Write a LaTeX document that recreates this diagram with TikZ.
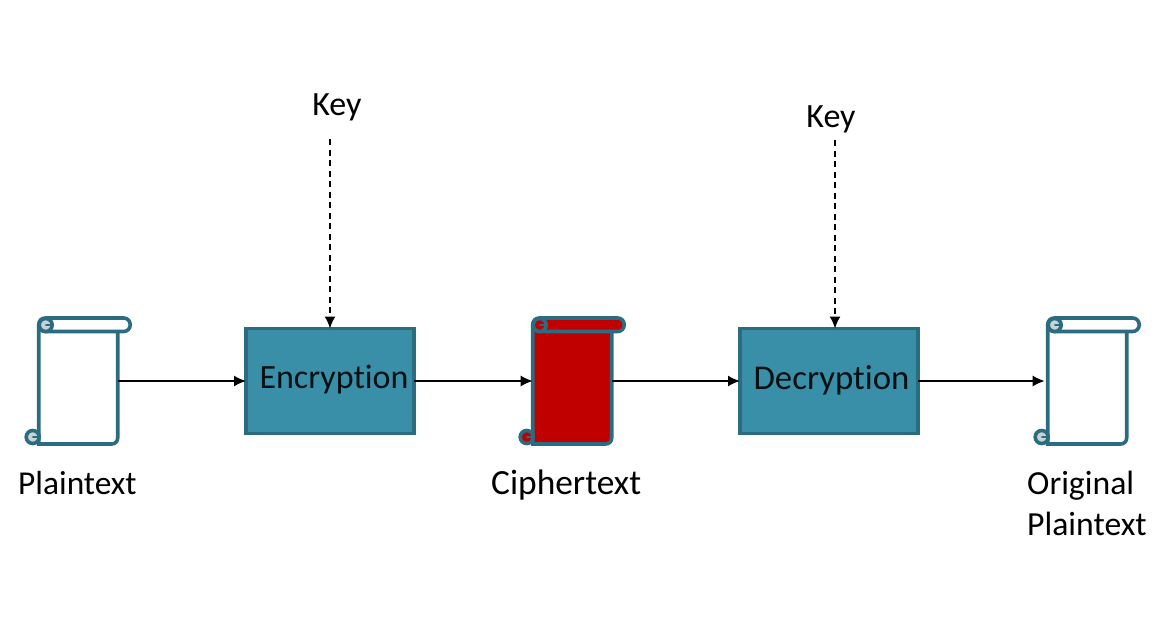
\documentclass[tikz,border=0pt]{standalone}
\usepackage{fontspec}
\setmainfont[Ligatures=NoCommon]{Carlito}
\usetikzlibrary{arrows.meta}
\definecolor{edgeteal}{HTML}{2B6C80}
\definecolor{boxteal}{HTML}{3A8FA8}
\definecolor{scrollred}{HTML}{C00000}
\definecolor{curlgrey}{HTML}{C9D3D6}
\newcommand{\scrollshape}[4]{%
  % #1 name, #2 left x, #3 fill, #4 curl fill
  \node[anchor=center,minimum width=79pt,minimum height=126pt,inner sep=0pt,outer sep=0pt] (#1) at (#2+39.5,381) {};
  \begin{scope}[shift={(#2,0)},scrollline]
    \filldraw[fill=#3] (0,325) -- (0,444) [rounded corners=6pt] -- (79,444) -- (79,325);
    \filldraw[fill=#3,rounded corners=6.5pt] (0,318) rectangle (91.5,331.5);
    \draw[fill=#4] (7,325) circle[radius=6.5];
    \draw[fill=#4] (-6,437) circle[radius=6.5];
    \draw[line width=2.6pt,line cap=round] (7.5,325) -- (13,325);
    \draw[line width=2.6pt,line cap=round] (-5.5,437) -- (0,437);
  \end{scope}
}
\tikzset{
  x=1pt,y=-1pt,
  scrollline/.style={draw=edgeteal,line width=3.6pt},
  cipherbox/.style={draw=edgeteal,line width=3.6pt,fill=boxteal,inner sep=0pt,outer sep=0pt,minimum height=105pt},
  boxtext/.style={text=black!85!edgeteal,inner sep=0pt},
  flow/.style={-{Latex[length=12pt,width=11pt]},line width=1.6pt,black},
  keyflow/.style={flow,dash pattern=on 6pt off 4.5pt},
  label/.style={font=\fontsize{34}{41}\selectfont,text=black,inner sep=0pt,align=left},
}
\begin{document}
\begin{tikzpicture}
\useasboundingbox (0,0) rectangle (1171,641);
\fill[white] (0,0) rectangle (1171,641);
\scrollshape{p1}{38.7}{white}{curlgrey}
\scrollshape{c1}{532.7}{scrollred}{scrollred}
\scrollshape{p2}{1047.7}{white}{curlgrey}
\node[cipherbox,minimum width=168pt] (enc) at (330,381) {};
\node[boxtext,font=\fontsize{34}{40}\selectfont] (enct) at (334,380) {Encryption};
\node[cipherbox,minimum width=178pt] (dec) at (829,381) {};
\node[boxtext,font=\fontsize{34.8}{40}\selectfont] (dect) at (831.5,380) {Decryption};
\node[label] (k1) at (337,107) {Key};
\node[label] (k2) at (831,119) {Key};
\coordinate (k1s) at (330,139);
\coordinate (k2s) at (835,140);
\node[label,anchor=west,font=\fontsize{33.4}{41}\selectfont] (lp) at (18,483) {Plaintext};
\node[label,anchor=west,font=\fontsize{35.4}{41}\selectfont] (lc) at (491,485) {Ciphertext};
\node[label,anchor=north west,font=\fontsize{33.7}{41}\selectfont] (lo) at (1027,471) {Original\\Plaintext};
\draw[flow] (p1.east) -- (enc.west);
\draw[flow] (enc.east) -- (c1.west);
\draw[flow] (c1.east) -- (dec.west);
\draw[flow] (dec.east) -- ([xshift=-3pt]p2.west);
\draw[keyflow] (k1s) -- (enc.north -| k1s);
\draw[keyflow] (k2s) -- (dec.north -| k2s);
\end{tikzpicture}
\end{document}
